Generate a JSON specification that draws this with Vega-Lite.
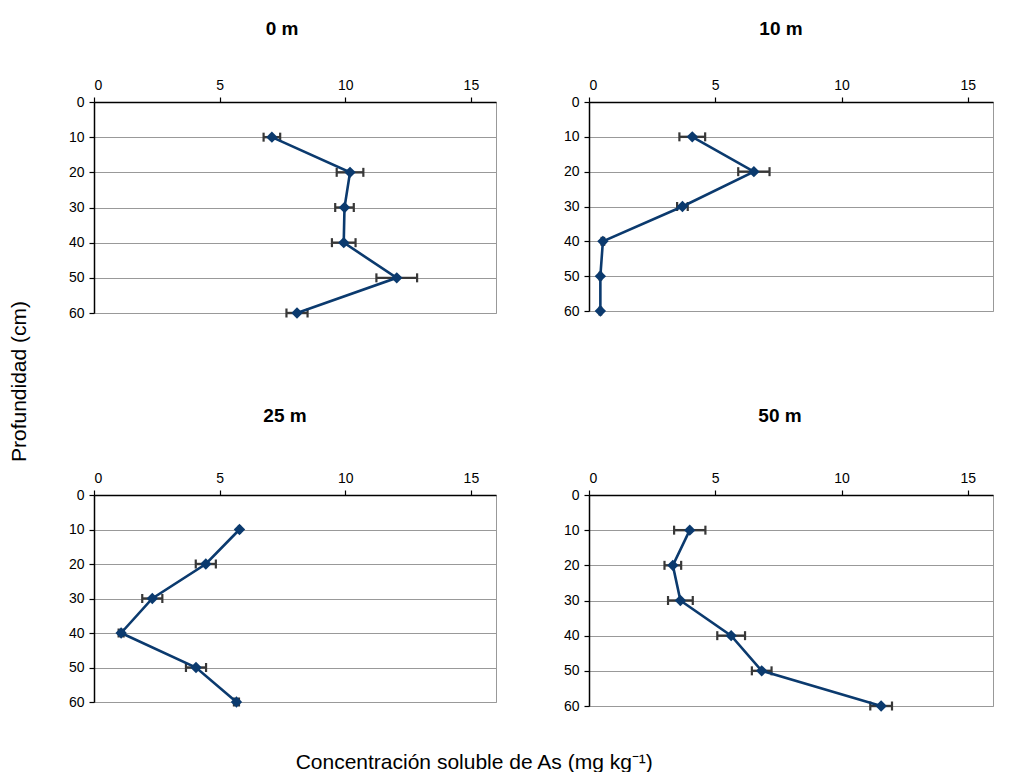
{
  "$schema": "https://vega.github.io/schema/vega-lite/v6.json",
  "background": "white",
  "padding": {"left": 8, "top": 19, "right": 5, "bottom": 5},
  "config": {
    "font": "Liberation Sans",
    "view": {"stroke": "#999999", "strokeWidth": 1},
    "axis": {"labelFont": "Liberation Sans", "labelFontSize": 14, "labelColor": "#000000", "domainColor": "#000000", "domainWidth": 1.5, "tickColor": "#000000", "tickSize": 5, "tickWidth": 1.2, "title": null, "labelPadding": 5},
    "title": {"font": "Liberation Sans", "color": "#000000"}
  },
  "datasets": {
    "d": [
      {"site": "0 m", "depth": 10, "conc": 7.08, "err": 0.33},
      {"site": "0 m", "depth": 20, "conc": 10.19, "err": 0.53},
      {"site": "0 m", "depth": 30, "conc": 9.97, "err": 0.37},
      {"site": "0 m", "depth": 40, "conc": 9.94, "err": 0.47},
      {"site": "0 m", "depth": 50, "conc": 12.05, "err": 0.81},
      {"site": "0 m", "depth": 60, "conc": 8.08, "err": 0.42},
      {"site": "10 m", "depth": 10, "conc": 4.09, "err": 0.51},
      {"site": "10 m", "depth": 20, "conc": 6.53, "err": 0.62},
      {"site": "10 m", "depth": 30, "conc": 3.7, "err": 0.21},
      {"site": "10 m", "depth": 40, "conc": 0.55, "err": 0.05},
      {"site": "10 m", "depth": 50, "conc": 0.45, "err": 0.03},
      {"site": "10 m", "depth": 60, "conc": 0.45, "err": 0.03},
      {"site": "25 m", "depth": 10, "conc": 5.79, "err": 0.02},
      {"site": "25 m", "depth": 20, "conc": 4.45, "err": 0.4},
      {"site": "25 m", "depth": 30, "conc": 2.32, "err": 0.4},
      {"site": "25 m", "depth": 40, "conc": 1.08, "err": 0.1},
      {"site": "25 m", "depth": 50, "conc": 4.06, "err": 0.4},
      {"site": "25 m", "depth": 60, "conc": 5.67, "err": 0.1},
      {"site": "50 m", "depth": 10, "conc": 3.99, "err": 0.62},
      {"site": "50 m", "depth": 20, "conc": 3.32, "err": 0.33},
      {"site": "50 m", "depth": 30, "conc": 3.62, "err": 0.49},
      {"site": "50 m", "depth": 40, "conc": 5.63, "err": 0.55},
      {"site": "50 m", "depth": 50, "conc": 6.84, "err": 0.39},
      {"site": "50 m", "depth": 60, "conc": 11.57, "err": 0.43}
    ]
  },
  "title": {"text": "Concentración soluble de As (mg kg⁻¹)", "orient": "bottom", "fontSize": 21, "fontWeight": "normal", "offset": 38, "anchor": "middle", "dx": -27},
  "vconcat": [
    {
      "title": {"text": "Profundidad (cm)", "orient": "left", "fontSize": 21, "fontWeight": "normal", "offset": 38, "anchor": "middle", "dx": -15},
      "spacing": 85,
      "vconcat": [
        {
          "spacing": 65,
          "hconcat": [
            {
              "title": {"text": "0 m", "fontSize": 19, "fontWeight": "bold", "offset": 39, "dx": -13},
              "width": 402, "height": 211,
              "data": {"name": "d"},
              "transform": [{"filter": "datum.site === '0 m'"}],
              "encoding": {
                "y": {"field": "depth", "type": "quantitative", "title": null, "scale": {"domain": [0, 60], "reverse": true}, "axis": {"title": null, "values": [0, 10, 20, 30, 40, 50, 60], "grid": true, "gridColor": "#999999", "gridWidth": 1.2}}
              },
              "layer": [
                {"mark": {"type": "errorbar", "color": "#383838", "opacity": 1, "ticks": {"size": 9, "thickness": 2.2, "color": "#383838", "opacity": 1}, "rule": {"strokeWidth": 2.4, "color": "#383838", "opacity": 1}}, "encoding": {"x": {"field": "conc", "type": "quantitative", "title": null, "scale": {"domain": [0, 15]}, "axis": {"title": null, "orient": "top", "values": [0, 5, 10, 15], "grid": false}}, "xError": {"field": "err"}}},
                {"mark": {"type": "line", "color": "#0b3a6e", "strokeWidth": 2.6}, "encoding": {"x": {"field": "conc", "type": "quantitative", "title": null}, "order": {"field": "depth"}}},
                {"mark": {"type": "point", "shape": "diamond", "filled": true, "opacity": 1, "size": 130, "color": "#0b3a6e"}, "encoding": {"x": {"field": "conc", "type": "quantitative", "title": null}}}
              ]
            },
            {
              "title": {"text": "10 m", "fontSize": 19, "fontWeight": "bold", "offset": 39, "dx": -10},
              "width": 404, "height": 209,
              "data": {"name": "d"},
              "transform": [{"filter": "datum.site === '10 m'"}],
              "encoding": {
                "y": {"field": "depth", "type": "quantitative", "title": null, "scale": {"domain": [0, 60], "reverse": true}, "axis": {"title": null, "values": [0, 10, 20, 30, 40, 50, 60], "grid": true, "gridColor": "#999999", "gridWidth": 1.2}}
              },
              "layer": [
                {"mark": {"type": "errorbar", "color": "#383838", "opacity": 1, "ticks": {"size": 9, "thickness": 2.2, "color": "#383838", "opacity": 1}, "rule": {"strokeWidth": 2.4, "color": "#383838", "opacity": 1}}, "encoding": {"x": {"field": "conc", "type": "quantitative", "title": null, "scale": {"domain": [0, 15]}, "axis": {"title": null, "orient": "top", "values": [0, 5, 10, 15], "grid": false}}, "xError": {"field": "err"}}},
                {"mark": {"type": "line", "color": "#0b3a6e", "strokeWidth": 2.6}, "encoding": {"x": {"field": "conc", "type": "quantitative", "title": null}, "order": {"field": "depth"}}},
                {"mark": {"type": "point", "shape": "diamond", "filled": true, "opacity": 1, "size": 130, "color": "#0b3a6e"}, "encoding": {"x": {"field": "conc", "type": "quantitative", "title": null}}}
              ]
            }
          ]
        },
        {
          "spacing": 65,
          "hconcat": [
            {
              "title": {"text": "25 m", "fontSize": 19, "fontWeight": "bold", "offset": 45, "dx": -10},
              "width": 402, "height": 207,
              "data": {"name": "d"},
              "transform": [{"filter": "datum.site === '25 m'"}],
              "encoding": {
                "y": {"field": "depth", "type": "quantitative", "title": null, "scale": {"domain": [0, 60], "reverse": true}, "axis": {"title": null, "values": [0, 10, 20, 30, 40, 50, 60], "grid": true, "gridColor": "#999999", "gridWidth": 1.2}}
              },
              "layer": [
                {"mark": {"type": "errorbar", "color": "#383838", "opacity": 1, "ticks": {"size": 9, "thickness": 2.2, "color": "#383838", "opacity": 1}, "rule": {"strokeWidth": 2.4, "color": "#383838", "opacity": 1}}, "encoding": {"x": {"field": "conc", "type": "quantitative", "title": null, "scale": {"domain": [0, 15]}, "axis": {"title": null, "orient": "top", "values": [0, 5, 10, 15], "grid": false}}, "xError": {"field": "err"}}},
                {"mark": {"type": "line", "color": "#0b3a6e", "strokeWidth": 2.6}, "encoding": {"x": {"field": "conc", "type": "quantitative", "title": null}, "order": {"field": "depth"}}},
                {"mark": {"type": "point", "shape": "diamond", "filled": true, "opacity": 1, "size": 130, "color": "#0b3a6e"}, "encoding": {"x": {"field": "conc", "type": "quantitative", "title": null}}}
              ]
            },
            {
              "title": {"text": "50 m", "fontSize": 19, "fontWeight": "bold", "offset": 45, "dx": -11},
              "width": 404, "height": 211,
              "data": {"name": "d"},
              "transform": [{"filter": "datum.site === '50 m'"}],
              "encoding": {
                "y": {"field": "depth", "type": "quantitative", "title": null, "scale": {"domain": [0, 60], "reverse": true}, "axis": {"title": null, "values": [0, 10, 20, 30, 40, 50, 60], "grid": true, "gridColor": "#999999", "gridWidth": 1.2}}
              },
              "layer": [
                {"mark": {"type": "errorbar", "color": "#383838", "opacity": 1, "ticks": {"size": 9, "thickness": 2.2, "color": "#383838", "opacity": 1}, "rule": {"strokeWidth": 2.4, "color": "#383838", "opacity": 1}}, "encoding": {"x": {"field": "conc", "type": "quantitative", "title": null, "scale": {"domain": [0, 15]}, "axis": {"title": null, "orient": "top", "values": [0, 5, 10, 15], "grid": false}}, "xError": {"field": "err"}}},
                {"mark": {"type": "line", "color": "#0b3a6e", "strokeWidth": 2.6}, "encoding": {"x": {"field": "conc", "type": "quantitative", "title": null}, "order": {"field": "depth"}}},
                {"mark": {"type": "point", "shape": "diamond", "filled": true, "opacity": 1, "size": 130, "color": "#0b3a6e"}, "encoding": {"x": {"field": "conc", "type": "quantitative", "title": null}}}
              ]
            }
          ]
        }
      ]
    }
  ]
}
